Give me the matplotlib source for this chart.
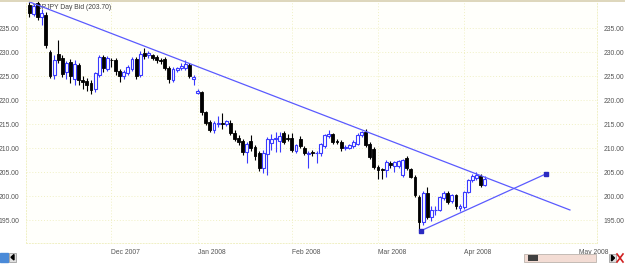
import matplotlib
matplotlib.use("Agg")
import matplotlib.pyplot as plt
from matplotlib.patches import Rectangle, Polygon
import numpy as np
import pandas as pd

plt.rcParams["font.family"] = ["Liberation Sans", "DejaVu Sans"]

# GBPJPY daily candles (open, high, low, close)
opens = [239.9, 238.0, 240.2, 237.4, 237.8, 230.0, 225.3, 229.6, 228.8, 225.8,
         228.0, 224.5, 227.3, 224.2, 224.0, 223.6, 222.3, 225.3, 229.0, 226.6,
         228.5, 228.4, 226.2, 225.0, 225.6, 226.6, 228.6, 225.2, 229.8, 229.4,
         229.4, 229.0, 228.5, 228.6, 226.8, 224.3, 226.3, 226.7, 226.8, 227.4,
         224.5, 221.6, 221.8, 217.5, 215.4, 213.9, 215.1, 215.3, 215.0, 215.3,
         213.2, 212.2, 211.5, 209.3, 211.5, 210.2, 209.0, 205.8, 208.8, 211.2,
         211.9, 211.6, 213.2, 212.1, 212.2, 209.4, 211.9, 210.0, 208.9, 209.2,
         209.0, 209.0, 210.4, 212.6, 212.9, 211.6, 211.3, 210.0, 210.1, 210.4,
         211.0, 212.7, 213.4, 211.0, 209.9, 206.2, 205.6, 205.4, 207.0, 206.3,
         206.4, 204.4, 208.0, 205.6, 204.1, 199.8, 194.6, 200.7, 195.6, 197.1,
         197.2, 199.6, 200.6, 199.0, 200.2, 197.6, 197.8, 200.9, 203.4, 203.8,
         204.3, 202.4]
highs = [240.5, 240.0, 240.6, 239.0, 238.3, 230.5, 229.5, 232.6, 229.5, 228.2,
         228.6, 228.5, 227.8, 225.0, 224.6, 224.2, 225.8, 229.4, 229.4, 229.2,
         228.9, 228.8, 226.6, 226.3, 227.4, 229.0, 229.0, 230.3, 230.8, 230.2,
         229.7, 229.4, 228.9, 229.0, 227.2, 226.9, 227.0, 227.8, 228.5, 227.8,
         225.2, 222.3, 222.0, 217.8, 216.0, 215.6, 216.8, 217.3, 216.0, 215.8,
         213.8, 212.8, 212.0, 211.4, 212.8, 210.7, 209.5, 209.6, 212.3, 213.0,
         213.4, 213.4, 213.6, 213.0, 213.2, 211.0, 212.5, 210.5, 209.5, 209.6,
         209.5, 211.2, 213.0, 213.8, 213.2, 211.9, 211.7, 210.7, 211.0, 211.7,
         213.1, 213.6, 214.0, 211.3, 210.2, 206.5, 205.9, 207.5, 207.3, 207.4,
         207.6, 207.8, 208.3, 205.9, 204.4, 200.2, 201.0, 202.0, 198.0, 198.0,
         200.1, 201.0, 201.0, 200.5, 200.5, 198.3, 201.2, 203.7, 204.6, 205.0,
         204.6, 204.3]
lows = [237.3, 237.5, 236.8, 235.6, 231.0, 224.6, 224.5, 227.8, 224.8, 224.4,
        223.6, 223.2, 223.2, 222.3, 222.0, 221.4, 221.8, 224.8, 226.0, 226.2,
        227.0, 225.3, 223.8, 224.4, 225.2, 226.2, 224.5, 224.8, 228.6, 228.9,
        228.4, 227.8, 227.6, 226.4, 223.6, 223.9, 225.9, 226.4, 226.4, 224.6,
        223.2, 221.3, 217.0, 214.8, 213.3, 213.2, 214.5, 214.0, 214.6, 212.7,
        211.5, 210.6, 208.6, 206.9, 209.5, 207.6, 205.3, 204.9, 204.5, 209.6,
        209.2, 209.2, 211.0, 211.5, 209.2, 209.0, 210.0, 208.6, 206.0, 208.5,
        207.0, 208.5, 210.0, 212.2, 211.0, 210.9, 209.5, 209.7, 209.8, 210.0,
        210.7, 212.4, 210.3, 207.8, 205.6, 203.6, 203.6, 204.0, 206.0, 205.0,
        206.0, 204.0, 205.5, 203.8, 199.8, 193.0, 194.0, 195.2, 194.8, 196.0,
        197.0, 199.3, 198.4, 198.6, 197.4, 196.9, 197.3, 200.6, 203.0, 203.5,
        202.0, 202.1]
closes = [238.2, 239.6, 237.4, 238.2, 231.5, 225.0, 228.5, 228.4, 225.5, 227.8,
          225.0, 227.5, 224.2, 223.8, 223.2, 222.2, 225.6, 229.0, 226.8, 228.8,
          228.3, 226.2, 225.0, 225.8, 227.0, 228.6, 225.0, 229.6, 229.3, 229.8,
          228.9, 228.3, 228.1, 226.8, 224.4, 226.5, 226.7, 227.1, 227.6, 225.0,
          224.9, 221.9, 217.5, 215.3, 213.9, 215.2, 215.3, 215.1, 215.6, 213.2,
          212.0, 211.4, 209.2, 211.0, 210.0, 208.3, 205.8, 209.0, 211.9, 212.0,
          212.2, 212.5, 211.4, 211.9, 209.7, 210.7, 210.5, 209.0, 209.1, 209.0,
          209.1, 210.9, 212.7, 213.0, 211.3, 211.3, 210.0, 210.3, 210.7, 211.3,
          212.8, 213.3, 210.7, 208.2, 206.1, 205.5, 205.4, 207.1, 206.5, 207.1,
          207.3, 207.5, 205.9, 204.1, 200.2, 194.6, 200.7, 195.7, 197.2, 197.2,
          199.8, 200.6, 198.9, 200.2, 197.9, 197.9, 200.9, 203.4, 204.2, 204.4,
          202.3, 203.7]

first_day = "2007-11-05"
month_labels = ["Dec 2007", "Jan 2008", "Feb 2008", "Mar 2008", "Apr 2008", "May 2008"]
price_ticks = [195, 200, 205, 210, 215, 220, 225, 230, 235]

# trend lines drawn by hand on the original (bar index, price)
down_x = [0, 131.8]
down_y = [240.5, 197.15]
up_x = [95.4, 125.9]
up_y = [192.8, 204.65]

up_col = "#3a3aff"
line_col = "#5a5aff"
grid_col = "#f0f0c4"
text_col = "#555555"
fs = 4.9

o = np.array(opens); h = np.array(highs); l = np.array(lows); c = np.array(closes)
n = len(c)
x = np.arange(n)
dates = pd.bdate_range(first_day, periods=n)

fig = plt.figure(figsize=(6.25, 2.76), dpi=100)
fig.patch.set_facecolor("white")
ax = fig.add_axes([26 / 625, 1 - 243 / 276, 571 / 625, 242 / 276])
ax.set_facecolor("#fffffb")

# month ticks: first bar of each month, future month by calendar days
tick_pos = []
for i in range(1, n):
    if dates[i].month != dates[i - 1].month:
        tick_pos.append(i)
future = pd.Timestamp(dates[-1].year, dates[-1].month + 1, 1)
tick_pos.append(n - 1 + (future - dates[-1]).days)

for yv in price_ticks:
    ax.axhline(yv, color=grid_col, lw=0.7, ls=(0, (1, 2)), zorder=0)
for xv in tick_pos[:-1]:
    ax.axvline(xv, color=grid_col, lw=0.7, ls=(0, (1, 2)), zorder=0)

ax.text(0.5, 240.0, "GBPJPY Day Bid (%.2f)" % c[-1], fontsize=fs,
        color="#404040", va="top", ha="left", zorder=1)

rising = c >= o
wick_cols = np.where(rising, up_col, "black")
ax.vlines(x, l, h, colors=wick_cols, lw=0.8, zorder=2)
bottoms = np.minimum(o, c)
heights = np.maximum(np.abs(c - o), 0.12)
ax.bar(x[rising], heights[rising], bottom=bottoms[rising], width=0.7,
       color="white", edgecolor=up_col, linewidth=0.8, zorder=3)
ax.bar(x[~rising], heights[~rising], bottom=bottoms[~rising], width=0.7,
       color="black", edgecolor="black", linewidth=0.6, zorder=3)

ax.plot(down_x, down_y, color=line_col, lw=0.9, zorder=4)
ax.plot(up_x, up_y, color=line_col, lw=0.9, zorder=4)
ax.plot(up_x, up_y, ls="none", marker="s", ms=3, color="#2a2ac0", zorder=5)

ax.set_xlim(-0.85, 138.4)
ax.set_ylim(190.27, 240.69)
ax.set_yticks(price_ticks)
ax.set_yticklabels(["%.2f" % v for v in price_ticks])
ax.set_xticks(tick_pos)
ax.set_xticklabels(month_labels, ha="left")
ax.tick_params(axis="y", labelleft=True, labelright=True, left=False, right=False,
               labelsize=fs, labelcolor=text_col, pad=1.2)
ax.tick_params(axis="x", bottom=False, labelsize=fs, labelcolor=text_col, pad=1)

for side in ["left", "right", "bottom"]:
    ax.spines[side].set_color(grid_col)
    ax.spines[side].set_linestyle((0, (1, 2)))
    ax.spines[side].set_linewidth(0.7)
ax.spines["top"].set_visible(False)

# top border and the little toolbar bits under the chart
fig.add_artist(plt.Line2D([0, 1], [1 - 0.5 / 276, 1 - 0.5 / 276], color="#d8d0b0", lw=1.2))
fig.add_artist(Rectangle((0 / 625, 1 - 262 / 276), 8 / 625, 9 / 276, color="#4a8ad8"))
fig.add_artist(Rectangle((9 / 625, 1 - 262 / 276), 7 / 625, 9 / 276,
                         facecolor="#e0e0e0", edgecolor="#909090", lw=0.5))
fig.add_artist(Polygon([(14 / 625, 1 - 254.5 / 276), (14 / 625, 1 - 260 / 276),
                        (11 / 625, 1 - 257.3 / 276)], color="black"))
fig.add_artist(Rectangle((524 / 625, 1 - 262 / 276), 72 / 625, 8 / 276,
                         facecolor="#f3dcd4", edgecolor="#b0a8a0", lw=0.5))
fig.add_artist(Rectangle((528 / 625, 1 - 261 / 276), 10 / 625, 6 / 276,
                         facecolor="#404040", edgecolor="none"))
fig.add_artist(Rectangle((609 / 625, 1 - 262 / 276), 7 / 625, 8 / 276,
                         facecolor="#e0e0e0", edgecolor="#909090", lw=0.5))
fig.add_artist(Polygon([(611.5 / 625, 1 - 255 / 276), (611.5 / 625, 1 - 261 / 276),
                        (614.5 / 625, 1 - 258 / 276)], color="black"))
fig.add_artist(plt.Line2D([617 / 625, 623 / 625], [1 - 254 / 276, 1 - 262 / 276],
                          color="#d02020", lw=1.2))
fig.add_artist(plt.Line2D([617 / 625, 623 / 625], [1 - 262 / 276, 1 - 254 / 276],
                          color="#d02020", lw=1.2))

fig.savefig("out.png", dpi=100, facecolor=fig.get_facecolor())
